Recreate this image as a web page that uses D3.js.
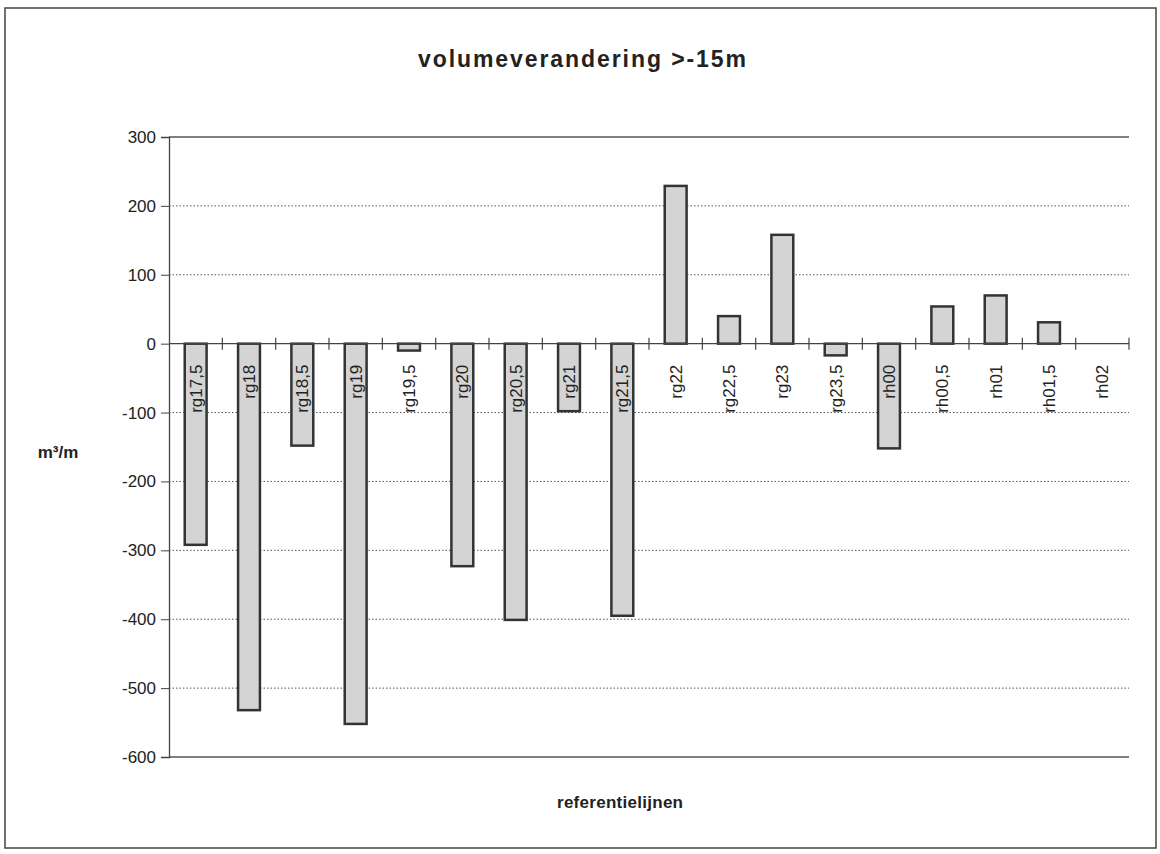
<!DOCTYPE html>
<html><head><meta charset="utf-8">
<script src="https://cdn.jsdelivr.net/npm/d3@7"></script>
<style>body{margin:0;background:#fff}</style>
</head><body>
<svg id="c" width="1160" height="854"></svg>
<script>
const categories = ["rg17,5","rg18","rg18,5","rg19","rg19,5","rg20","rg20,5","rg21","rg21,5","rg22","rg22,5","rg23","rg23,5","rh00","rh00,5","rh01","rh01,5","rh02"];
const values = [-292,-532,-148,-552,-10,-323,-401,-98,-395,229,40,158,-17,-152,54,70,31,null];
const yTicks = [300,200,100,0,-100,-200,-300,-400,-500,-600];
const title = "volumeverandering >-15m";
const xTitle = "referentielijnen";
const yTitle = "m³/m";

const svg = d3.select("#c");
const font = "'Liberation Sans', Arial, sans-serif";
const L = 169, R = 1129, T = 137, B = 757;

svg.append("rect").attr("x",5).attr("y",8).attr("width",1151).attr("height",840)
  .attr("fill","#fff").attr("stroke","#444").attr("stroke-width",1.5);

const x = d3.scaleBand().domain(categories).range([L,R]).paddingInner(0.59).paddingOuter(0.295);
const xs = d3.scaleBand().domain(categories).range([L,R]);
const y = d3.scaleLinear().domain([-600,300]).range([B,T]);

// gridlines
svg.append("g").selectAll("line").data(yTicks.filter(d=>d!==0 && d!==-600 && d!==300)).join("line")
  .attr("x1",L).attr("x2",R).attr("y1",d=>y(d)).attr("y2",d=>y(d))
  .attr("stroke","#555").attr("stroke-width",1).attr("stroke-dasharray","1.5,2");
// top & bottom solid
svg.append("g").selectAll("line").data([300,-600]).join("line")
  .attr("x1",L).attr("x2",R).attr("y1",d=>y(d)).attr("y2",d=>y(d))
  .attr("stroke","#555").attr("stroke-width",1.3);

// y axis
const yAxis = d3.axisLeft(y).tickValues(yTicks).tickSize(8).tickFormat(d=>String(d));
const ga = svg.append("g").attr("transform",`translate(${L},0)`).call(yAxis);
ga.select(".domain").attr("stroke","#444").attr("stroke-width",1.3);
ga.selectAll(".tick line").attr("stroke","#444");
ga.selectAll(".tick text").attr("font-family",font).attr("font-size",17).attr("fill","#222").attr("x",-13);

// bars
svg.append("g").selectAll("rect").data(categories.map((c,i)=>({c,v:values[i]})).filter(d=>d.v!==null)).join("rect")
  .attr("x",d=>x(d.c)).attr("width",x.bandwidth())
  .attr("y",d=>y(Math.max(0,d.v))).attr("height",d=>Math.abs(y(d.v)-y(0)))
  .attr("fill","#d4d4d4").attr("stroke","#333").attr("stroke-width",2.5);

// zero axis with crossing ticks
svg.append("line").attr("x1",L).attr("x2",R).attr("y1",y(0)).attr("y2",y(0)).attr("stroke","#444").attr("stroke-width",1.3);
svg.append("g").selectAll("line").data(categories).join("line")
  .attr("x1",d=>xs(d)+xs.bandwidth()).attr("x2",d=>xs(d)+xs.bandwidth())
  .attr("y1",y(0)-6).attr("y2",y(0)+6).attr("stroke","#444").attr("stroke-width",1.2);

// category labels
svg.append("g").selectAll("text").data(categories).join("text")
  .attr("transform",d=>`translate(${xs(d)+xs.bandwidth()/2+6},${y(0)+21}) rotate(-90)`)
  .attr("text-anchor","end").attr("font-family",font).attr("font-size",17).attr("fill","#222")
  .text(d=>d);

// titles
svg.append("text").attr("x",582).attr("y",67).attr("text-anchor","middle")
  .attr("font-family",font).attr("font-weight","bold").attr("font-size",23).attr("fill","#222")
  .attr("textLength",328).attr("lengthAdjust","spacing").text(title);
svg.append("text").attr("x",620).attr("y",808).attr("text-anchor","middle")
  .attr("font-family",font).attr("font-weight","bold").attr("font-size",17).attr("fill","#222")
  .attr("textLength",126).attr("lengthAdjust","spacing").text(xTitle);
svg.append("text").attr("x",58).attr("y",458).attr("text-anchor","middle")
  .attr("font-family",font).attr("font-weight","bold").attr("font-size",17).attr("fill","#222")
  .text(yTitle);
</script>
</body></html>
